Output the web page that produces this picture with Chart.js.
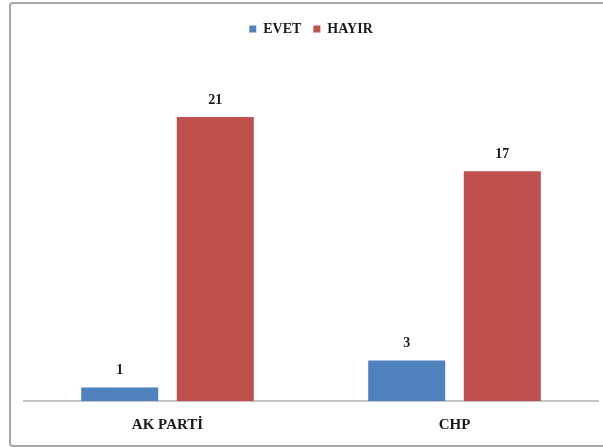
<!DOCTYPE html>
<html>
<head>
<meta charset="utf-8">
<script src="https://cdn.jsdelivr.net/npm/chart.js@4.4.1/dist/chart.umd.min.js"></script>
<style>
  html, body { margin: 0; padding: 0; background: #fff; }
  #wrap { position: relative; width: 603px; height: 447px; overflow: hidden; }
  #frame {
    position: absolute; left: 9px; top: 2px; width: 610px; height: 441px;
    border: 2px solid #a8a8a8; border-radius: 4px; box-sizing: content-box;
  }
  canvas { position: absolute; left: 0; top: 0; }
</style>
</head>
<body>
<div id="wrap">
  <div id="frame"></div>
  <canvas id="myChart" width="603" height="447"></canvas>
</div>
<script>
// veriler
const categories = ['AK PARTİ', 'CHP'];
const evet = [1, 3];
const hayir = [21, 17];

const serif = '"Liberation Serif", "Times New Roman", serif';

// lejant altına boşluk ekle
const legendGap = {
  id: 'legendGap',
  beforeLayout(chart) {
    const lg = chart.legend;
    if (lg && !lg._gapPatched) {
      const fit = lg.fit;
      lg.fit = function () {
        fit.call(this);
        this.height += 17;
      };
      lg._gapPatched = true;
    }
  }
};

// çubukların üstüne değer yaz
const valueLabels = {
  id: 'valueLabels',
  afterDatasetsDraw(chart) {
    const ctx = chart.ctx;
    ctx.save();
    ctx.font = 'bold 14px ' + serif;
    ctx.fillStyle = '#1a1a1a';
    ctx.textAlign = 'center';
    ctx.textBaseline = 'bottom';
    chart.data.datasets.forEach((ds, i) => {
      chart.getDatasetMeta(i).data.forEach((bar, j) => {
        ctx.fillText(ds.data[j], bar.x, bar.y - 10);
      });
    });
    ctx.restore();
  }
};

const ctx = document.getElementById('myChart').getContext('2d');
const myChart = new Chart(ctx, {
  type: 'bar',
  data: {
    labels: categories,
    datasets: [
      { label: 'EVET', data: evet, backgroundColor: '#4F81BD' },
      { label: 'HAYIR', data: hayir, backgroundColor: '#C0504D' }
    ]
  },
  options: {
    responsive: false,
    animation: false,
    layout: { padding: { left: 24, right: 5, top: 10, bottom: 0 } },
    datasets: {
      bar: { categoryPercentage: 0.666, barPercentage: 0.806 }
    },
    plugins: {
      legend: {
        position: 'top',
        labels: {
          boxWidth: 7,
          boxHeight: 7,
          padding: 12,
          color: '#1a1a1a',
          font: { family: serif, size: 14, weight: 'bold' }
        }
      },
      tooltip: { enabled: false }
    },
    scales: {
      x: {
        grid: { display: false },
        border: { display: true, color: '#c4c4c4', width: 2 },
        ticks: {
          padding: 7,
          color: '#1a1a1a',
          font: { family: serif, size: 15, weight: 'bold' }
        },
        afterFit: (scale) => { scale.height = 46; }
      },
      y: {
        display: false,
        min: 0,
        max: 25
      }
    }
  },
  plugins: [legendGap, valueLabels]
});
</script>
</body>
</html>
